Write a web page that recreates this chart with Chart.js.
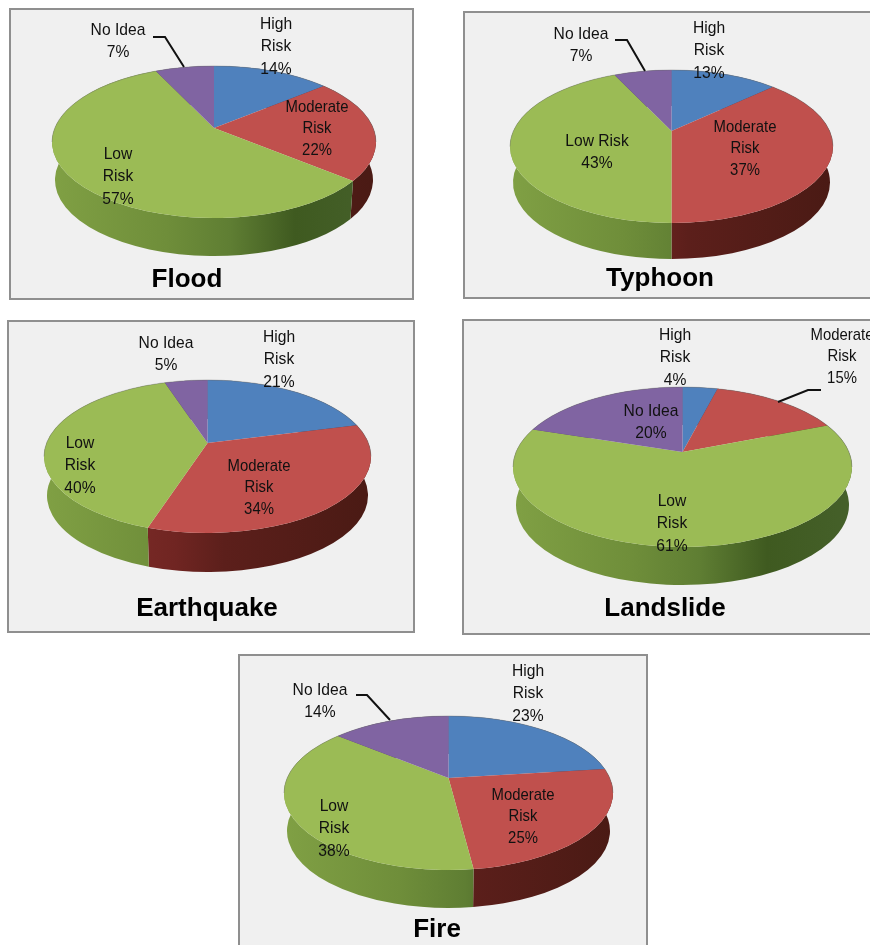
<!DOCTYPE html>
<html>
<head>
<meta charset="utf-8">
<title>Risk perception by hazard</title>
<script src="https://cdn.jsdelivr.net/npm/chart.js"></script>
<style>
  html, body { margin: 0; background: #fff; overflow: hidden; width: 870px; height: 945px; }
  .panel { position: absolute; box-sizing: border-box; background: #f0f0f0; border: 2px solid #8f8f8f; }
  .panel canvas { position: absolute; left: -2px; top: -2px; }
</style>
</head>
<body>
<script>
const categories = ['High Risk', 'Moderate Risk', 'Low Risk', 'No Idea'];
const hazards = ['Flood', 'Typhoon', 'Earthquake', 'Landslide', 'Fire'];

const floodValues = [14, 22, 57, 7];
const typhoonValues = [13, 37, 43, 7];
const earthquakeValues = [21, 34, 40, 5];
const landslideValues = [4, 15, 61, 20];
const fireValues = [23, 25, 38, 14];

const topColors = ['#4f81bd', '#c0504d', '#9bbb55', '#8064a2'];
// side wall shading, left to right across the pie
const sideColors = [
  [[0, '#35567e'], [1, '#2a4566']],
  [[0, '#8a322e'], [0.4, '#702522'], [0.55, '#5c1f1b'], [1, '#4a1a14']],
  [[0, '#80a044'], [0.35, '#6f8e3a'], [0.55, '#5f7e33'], [0.75, '#3f5a20'], [1, '#45602a']],
  [[0, '#57436f'], [1, '#443557']]
];

// ellipse of the top face, depth of the wall and how far the pivot sits above the ellipse centre
const charts = [
  { values: floodValues, title: hazards[0], panel: [9, 8, 405, 292], cx: 214, cy: 142, rx: 162, ry: 76, pivot: 14, depth: 38, titleAt: [187, 280],
    labels: [[276, 24], [317, 107], [118, 154], [118, 30]],
    leader: [[153, 37], [165, 37], [184, 67]] },
  { values: typhoonValues, title: hazards[1], panel: [463, 11, 440, 288], cx: 671.5, cy: 146.5, rx: 161.5, ry: 76.5, pivot: 15.5, depth: 36, titleAt: [660, 279],
    labels: [[709, 28], [745, 127], [597, 141], [581, 34]],
    leader: [[615, 40], [627, 40], [645, 71]],
    oneLine: [2] },
  { values: earthquakeValues, title: hazards[2], panel: [7, 320, 408, 313], cx: 207.5, cy: 456.5, rx: 163.5, ry: 76.5, pivot: 13.5, depth: 39, titleAt: [207, 609],
    labels: [[279, 337], [259, 466], [80, 443], [166, 343]] },
  { values: landslideValues, title: hazards[3], panel: [462, 319, 440, 316], cx: 682.5, cy: 467, rx: 169.5, ry: 80, pivot: 15, depth: 38, titleAt: [665, 609],
    labels: [[675, 335], [842, 335], [672, 501], [651, 411]],
    leader: [[821, 390], [808, 390], [778, 402]] },
  { values: fireValues, title: hazards[4], panel: [238, 654, 410, 320], cx: 448.5, cy: 793, rx: 164.5, ry: 77, pivot: 15, depth: 38, titleAt: [437, 930],
    labels: [[528, 671], [523, 795], [334, 806], [320, 690]],
    leader: [[356, 695], [367, 695], [390, 720]] }
];

// the eye is in front of the pie, so a circle angle lands on the ellipse through a
// projective map that keeps the rim on the rim and moves the centre up to the pivot
function rimAngle(a, k) {
  const x = Math.cos(a), y = Math.sin(a);
  const d = 1 - k * y;
  return Math.atan2((y - k) / d, x * Math.sqrt(1 - k * k) / d);
}

function labelLines(name, value, cfg, i) {
  const pct = value + '%';
  if (name === 'No Idea' || (cfg.oneLine && cfg.oneLine.includes(i))) return [name, pct];
  return [...name.split(' '), pct];
}

const tiltedPie = {
  id: 'tiltedPie',
  beforeDatasetDraw(chart, args, opts) {
    const cfg = opts.cfg;
    const ctx = chart.ctx;
    const arcs = chart.getDatasetMeta(args.index).data;
    const cx = arcs[0].x, cy = arcs[0].y, rx = arcs[0].outerRadius;
    const ry = cfg.ry, k = cfg.pivot / ry;

    arcs.forEach((arc, i) => {
      const a0 = rimAngle(arc.startAngle, k), a1 = rimAngle(arc.endAngle, k);
      const g = ctx.createLinearGradient(cx - rx, 0, cx + rx, 0);
      sideColors[i].forEach(s => g.addColorStop(s[0], s[1]));
      ctx.beginPath();
      ctx.ellipse(cx, cy, rx, ry, 0, a0, a1);
      ctx.ellipse(cx, cy + cfg.depth, rx - 3, ry, 0, a1, a0, true);
      ctx.closePath();
      ctx.fillStyle = g;
      ctx.fill();
    });

    arcs.forEach((arc, i) => {
      const a0 = rimAngle(arc.startAngle, k), a1 = rimAngle(arc.endAngle, k);
      ctx.beginPath();
      ctx.moveTo(cx, cy - cfg.pivot);
      ctx.ellipse(cx, cy, rx, ry, 0, a0, a1);
      ctx.closePath();
      ctx.fillStyle = arc.options.backgroundColor;
      ctx.fill();
    });

    // soft grey edge along the back of the top face
    ctx.beginPath();
    ctx.ellipse(cx, cy, rx, ry, 0, Math.PI, 2 * Math.PI);
    ctx.strokeStyle = 'rgba(110,110,110,0.4)';
    ctx.lineWidth = 1;
    ctx.stroke();
    return false;
  },
  afterDraw(chart, args, opts) {
    const cfg = opts.cfg;
    const ctx = chart.ctx;
    ctx.save();
    ctx.translate(-cfg.panel[0], -cfg.panel[1]);
    ctx.fillStyle = '#111';
    ctx.textAlign = 'center';
    ctx.textBaseline = 'middle';
    ctx.font = '17px "Liberation Sans", Arial, sans-serif';
    categories.forEach((name, i) => {
      const lines = labelLines(name, cfg.values[i], cfg, i);
      const step = i === 1 ? 21.5 : 22.5;
      // the labels are set in a narrow cut, squeeze them sideways
      const squeeze = i === 1 ? 0.875 : 0.92;
      lines.forEach((t, n) => {
        ctx.save();
        ctx.translate(cfg.labels[i][0], cfg.labels[i][1] + n * step);
        ctx.scale(squeeze, 1);
        ctx.fillText(t, 0, 0);
        ctx.restore();
      });
    });
    if (cfg.leader) {
      ctx.beginPath();
      cfg.leader.forEach((p, i) => i ? ctx.lineTo(p[0], p[1]) : ctx.moveTo(p[0], p[1]));
      ctx.strokeStyle = '#111';
      ctx.lineWidth = 2;
      ctx.stroke();
    }
    ctx.fillStyle = '#000';
    ctx.font = 'bold 26px "Liberation Sans", Arial, sans-serif';
    ctx.fillText(cfg.title, cfg.titleAt[0], cfg.titleAt[1]);
    ctx.restore();
  }
};

charts.forEach(cfg => {
  const [px, py, pw, ph] = cfg.panel;
  const panel = document.createElement('div');
  panel.className = 'panel';
  panel.style.cssText = `left:${px}px;top:${py}px;width:${pw}px;height:${ph}px`;
  const canvas = document.createElement('canvas');
  canvas.width = pw;
  canvas.height = ph;
  canvas.style.width = pw + 'px';
  canvas.style.height = ph + 'px';
  panel.appendChild(canvas);
  document.body.appendChild(panel);

  // padding puts the chart area centre on the ellipse centre
  const cxRel = cfg.cx - px, cyRel = cfg.cy - py;
  new Chart(canvas, {
    type: 'pie',
    data: {
      labels: categories,
      datasets: [{ data: cfg.values, backgroundColor: topColors, borderWidth: 0 }]
    },
    options: {
      responsive: false,
      animation: false,
      radius: cfg.rx,
      layout: {
        padding: {
          left: Math.max(0, 2 * cxRel - pw),
          right: Math.max(0, pw - 2 * cxRel),
          top: Math.max(0, 2 * cyRel - ph),
          bottom: Math.max(0, ph - 2 * cyRel)
        }
      },
      plugins: {
        legend: { display: false },
        tooltip: { enabled: false },
        tiltedPie: { cfg }
      }
    },
    plugins: [tiltedPie]
  });
});
</script>
</body>
</html>
